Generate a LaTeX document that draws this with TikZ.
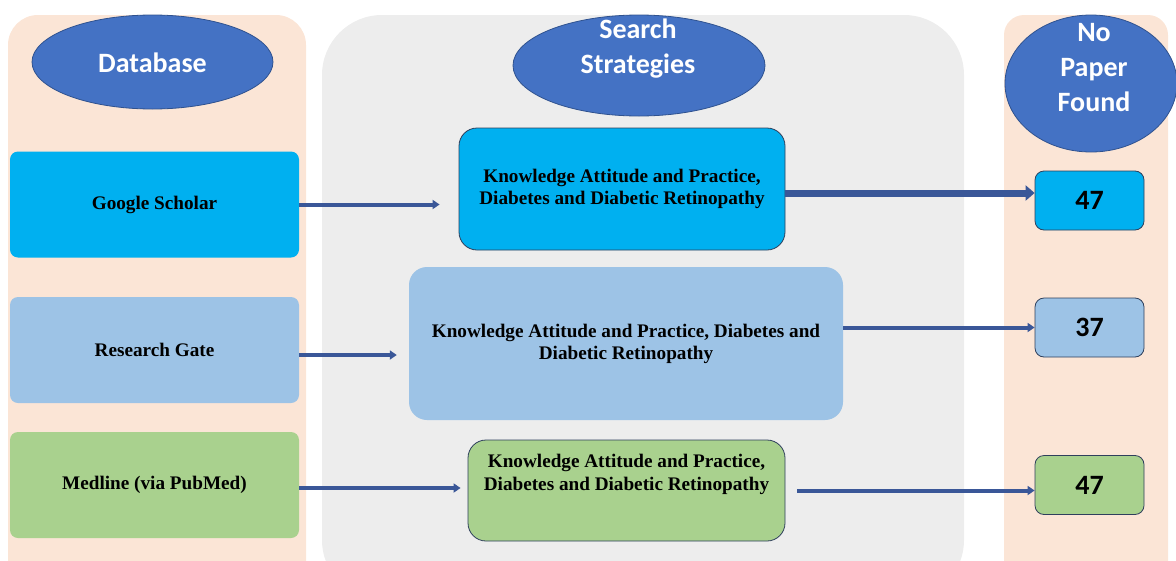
\documentclass[tikz,border=0pt]{standalone}
\usepackage{fontspec}
\setmainfont{Liberation Serif}
\newfontfamily\headfont{Carlito}
\usetikzlibrary{shapes.geometric,arrows.meta,calc}

\definecolor{peach}{HTML}{FBE5D6}
\definecolor{panelgray}{HTML}{EDEDED}
\definecolor{ovalblue}{HTML}{4472C4}
\definecolor{ovaledge}{HTML}{2F528F}
\definecolor{cyanbox}{HTML}{00B0F0}
\definecolor{skybox}{HTML}{9DC3E6}
\definecolor{greenbox}{HTML}{A9D18E}
\definecolor{boxedge}{HTML}{2E3F5C}
\definecolor{arrowblue}{HTML}{3A5798}

\begin{document}
\begin{tikzpicture}[x=1pt,y=-1pt,
  oval/.style={ellipse,draw=ovaledge,line width=0.8pt,fill=ovalblue,inner sep=0pt},
  headtext/.style={text=white,font=\headfont\bfseries\fontsize{28}{35}\selectfont,align=center,inner sep=0pt},
  dbbox/.style={rounded corners=8pt,inner sep=0pt,minimum width=289pt,minimum height=106pt,
    font=\bfseries\fontsize{19.2}{22}\selectfont},
  kbox/.style={rounded corners=18pt,inner sep=0pt,align=center,
    font=\bfseries\fontsize{19.2}{22}\selectfont},
  ktext/.style={align=center,inner sep=0pt,font=\bfseries\fontsize{19.2}{23}\selectfont},
  numbox/.style={rounded corners=9pt,draw=boxedge,line width=0.8pt,inner sep=0pt,
    minimum width=109pt,minimum height=59pt,font=\headfont\bfseries\fontsize{28}{32}\selectfont},
  arr/.style={draw=arrowblue,line width=4pt,-{Triangle[length=7pt,width=9pt]}},
  bigarr/.style={draw=arrowblue,line width=7pt,-{Triangle[length=9pt,width=15pt]}}
]
\useasboundingbox (0,0) rectangle (1176,560);

% background columns, cut off at the lower edge
\begin{scope}
  \clip (-5,-5) rectangle (1181,570);
  \fill[peach, rounded corners=30pt] (8,15) rectangle (306,600);
  \fill[panelgray, rounded corners=60pt] (322,15) rectangle (964,600);
  \fill[peach, rounded corners=20pt] (1004,15) rectangle (1168,600);
\end{scope}

% column headings
\node[oval,minimum width=241pt,minimum height=94pt] (dbh) at (152.5,62) {};
\node[headtext] (dbht) at (152.5,63) {Database};
\node[oval,minimum width=252pt,minimum height=101pt] (ssh) at (639,65.5) {};
\node[headtext] (ssht) at (638,49) {Search\\Strategies};
\node[oval,minimum width=172pt,minimum height=137pt] (nph) at (1091,83.5) {};
\node[headtext] (npht) at (1094,68) {No\\Paper\\Found};

% databases
\node[dbbox,fill=cyanbox] (gs) at (154.5,204.5) {Google Scholar};
\node[dbbox,fill=skybox] (rg) at (154.5,350) {Research Gate};
\node[dbbox,fill=greenbox] (md) at (154.5,485) {Medline (via PubMed)};

% search strategies
\node[kbox,fill=cyanbox,draw=boxedge,line width=0.8pt,minimum width=326pt,minimum height=122pt] (k1) at (622,189)
  {Knowledge Attitude and Practice,\\Diabetes and Diabetic Retinopathy};
\node[kbox,fill=skybox,minimum width=434pt,minimum height=153pt] (k2) at (626,343.5)
  {Knowledge Attitude and Practice, Diabetes and\\Diabetic Retinopathy};
\node[kbox,fill=greenbox,draw=boxedge,line width=0.8pt,minimum width=317pt,minimum height=101pt] (k3) at (626.5,490.5) {};
\node[ktext] (k3t) at (626.5,474.5) {Knowledge Attitude and Practice,\\Diabetes and Diabetic Retinopathy};

% counts
\node[numbox,fill=cyanbox] (n1) at (1089.5,200.5) {47};
\node[numbox,fill=skybox] (n2) at (1089.5,327.5) {37};
\node[numbox,fill=greenbox] (n3) at (1089.5,485) {47};

% connectors
\draw[arr,shorten >=19pt] (gs.east) -- (gs.east -| k1.west);
\draw[arr,shorten >=12pt] ([yshift=-5pt]rg.east) -- ([yshift=-5pt]rg.east -| k2.west);
\draw[arr,shorten >=7pt] ([yshift=-3pt]md.east) -- ([yshift=-3pt]md.east -| k3.west);
\draw[bigarr] ([yshift=-4pt]k1.east) -- ([yshift=-4pt]k1.east -| n1.west);
\draw[arr] (n2.west -| k2.east) -- (n2.west);
\draw[arr,shorten <=12pt] (k3.east) -- (k3.east -| n3.west);
\end{tikzpicture}
\end{document}
